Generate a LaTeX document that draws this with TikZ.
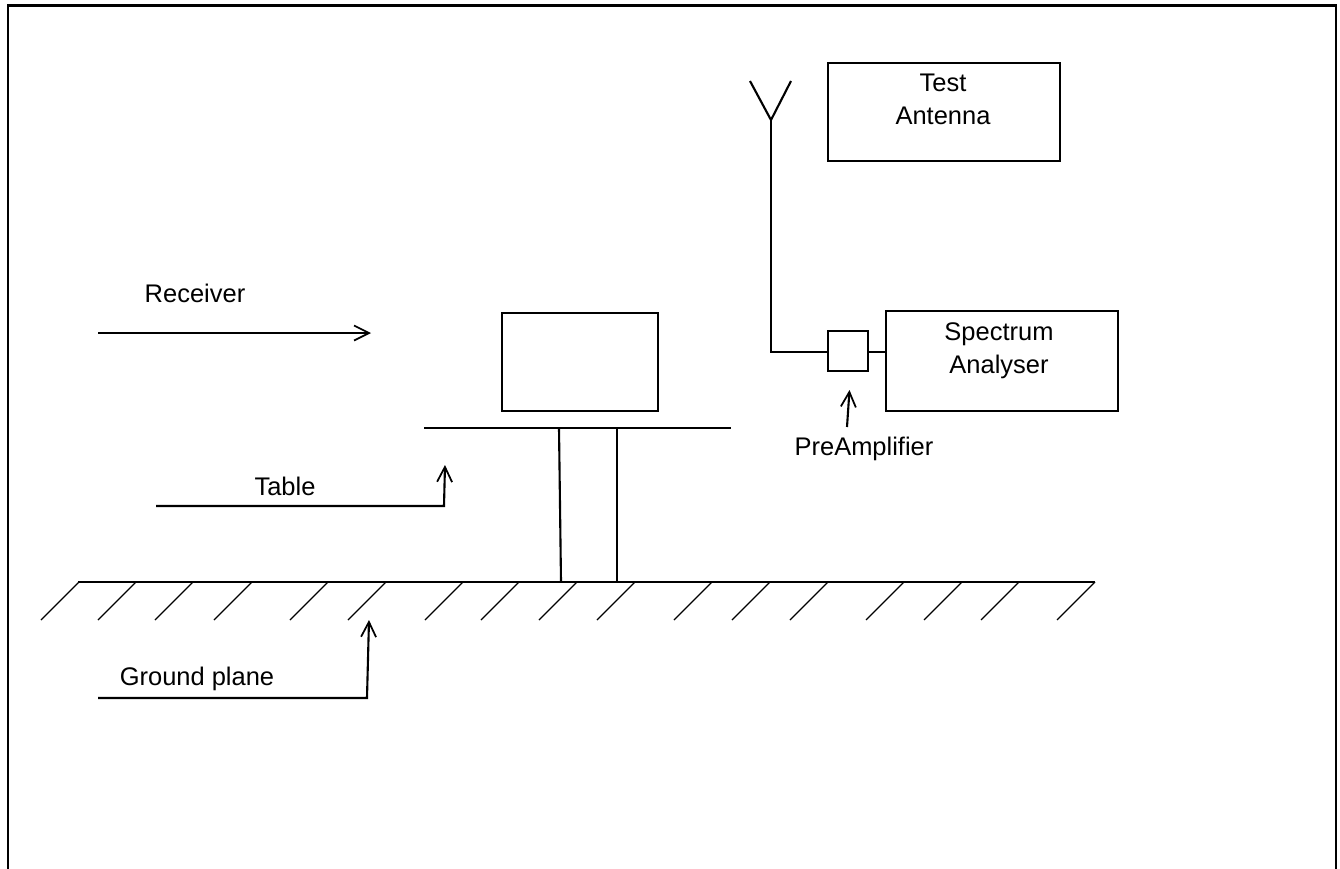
\documentclass[tikz,border=0pt]{standalone}
\usepackage{fontspec}
\setmainfont{Liberation Sans}
\usetikzlibrary{arrows.meta, positioning}

\begin{document}
\begin{tikzpicture}[
    x=0.02cm, y=-0.02cm,
    line width=1.2pt,
    box/.style={rectangle, draw, anchor=north west, inner sep=0pt, outer sep=0pt},
    lbl/.style={font=\fontsize{14.5}{18.9}\selectfont, align=center, inner sep=0pt},
    arr/.style={-{Straight Barb[length=0.3cm, width=0.3cm, line width=1pt]}},
    hatch/.style={line width=0.75pt}
]
    \useasboundingbox (0,0) rectangle (1340,869);

    % frame, open at the bottom
    \coordinate (fa) at (8,869);
    \coordinate (fb) at (8,5.5);
    \coordinate (fc) at (1336,5.5);
    \coordinate (fd) at (1336,869);
    \draw[line width=1.5pt] (fa) -- (fb) -- (fc) -- (fd);

    \node[box, minimum width=232*0.02cm, minimum height=98*0.02cm] (testant) at (828,63) {};
    \node[box, minimum width=156*0.02cm, minimum height=98*0.02cm] (receiver) at (502,313) {};
    \node[box, minimum width=232*0.02cm, minimum height=100*0.02cm] (analyser) at (886,311) {};
    \node[box, minimum width=40*0.02cm, minimum height=40*0.02cm] (preamp) at (828,331) {};

    \node[lbl] (ltest) at (943,99) {Test\\Antenna};
    \node[lbl] (lspec) at (999,351) {Spectrum\\Analyser};
    \node[lbl] (lrec) at (195,293) {Receiver};
    \node[lbl] (ltable) at (285,486) {Table};
    \node[lbl] (lground) at (197,679) {Ground plane};
    \node[lbl] (lpre) at (864,448.5) {PreAmplifier};

    % antenna
    \coordinate (va) at (750,81);
    \coordinate (vb) at (771,120);
    \coordinate (vc) at (791,81);
    \coordinate (vd) at (771,352);
    \draw (va) -- (vb) -- (vc);
    \draw (vb) -- (vd) -- (preamp.west |- vd);
    \draw (preamp.east |- vd) -- (analyser.west |- vd);

    % table
    \coordinate (ta) at (424,428);
    \coordinate (tb) at (731,428);
    \coordinate (la) at (559,428);
    \coordinate (lb) at (561,581.5);
    \coordinate (lc) at (617,428);
    \coordinate (ld) at (617,581.5);
    \draw (ta) -- (tb);
    \draw (la) -- (lb);
    \draw (lc) -- (ld);

    % ground plane
    \coordinate (ga) at (78,582);
    \coordinate (gb) at (1095,582);
    \draw (ga) -- (gb);
    \foreach \x in {79,136,193,252,328,386,463,519,577,635,712,770,828,904,962,1019,1095}
        \draw[hatch] (\x,582) -- ++(-38,38);

    % pointers
    \coordinate (ra) at (98,333);
    \coordinate (rb) at (371,333);
    \draw[arr] (ra) -- (rb);
    \coordinate (pa) at (847,427);
    \coordinate (pb) at (849.5,390);
    \draw[arr] (pa) -- (pb);
    \coordinate (tc) at (156,506);
    \coordinate (td) at (444,506);
    \coordinate (te) at (445,465);
    \draw[arr] (tc) -- (td) -- (te);
    \coordinate (gc) at (98,698);
    \coordinate (gd) at (367,698);
    \coordinate (ge) at (369,620);
    \draw[arr] (gc) -- (gd) -- (ge);
\end{tikzpicture}
\end{document}
